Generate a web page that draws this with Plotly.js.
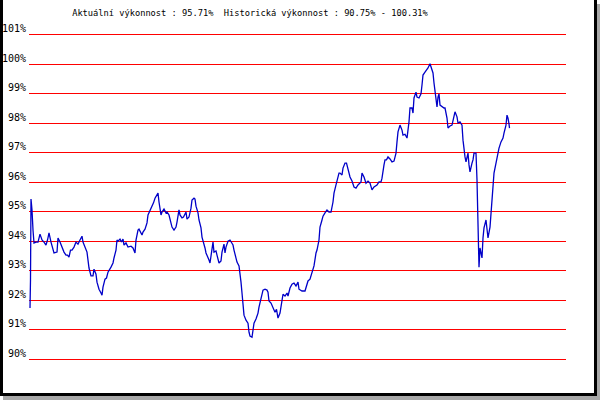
<!DOCTYPE html>
<html>
<head>
<meta charset="utf-8">
<script src="https://cdn.plot.ly/plotly-3.0.1.min.js"></script>
<style>
  html, body { margin: 0; padding: 0; background: #ffffff; }
  #wrap { position: relative; width: 600px; height: 400px; overflow: hidden; background: #ffffff; }
  #frame { position: absolute; left: 0; top: 0; width: 591px; height: 393px;
           border-left: 3px solid #000; border-right: 3px solid #000; border-bottom: 3px solid #000;
           box-shadow: 3px 4px 0 #a8a8a8; }
  #chart { position: absolute; left: 0; top: 0; width: 600px; height: 400px; }
</style>
</head>
<body>
<div id="wrap">
  <div id="frame"></div>
  <div id="chart"></div>
</div>
<script>
// sample position (time step) and performance value in %
const t = [30,30.5,31,32,33,34,36,38,40,42,44,46,47.5,49,51,53,54,57,58,60,62,64,66,67.5,69,70.5,72,74,76,78,80,82,83,85,87,88,89,91,93,94,96,97,99,101,102,103,105,106.5,108,111,113,114,116,117,118,120,121.5,123,124,126,128,131,133,135,136,138,139,142,143,145,147,148,150,152,153.5,155,157,158,159,160,161,162,164,166,167,169,171,172,174,176,177,179,180,182,183.5,185,186,187,189,191,192,194,195,196,198,199,201,202,204,205,206,208,209,210,212,213,214,216,217,219,221,222,224,225,226,228,230,231,233,234,236,237,239,240,241,242,243,244,246,248,249,250,252,253,254,256,258,259,261,262,263,265,267,268,269,271,273,275,276.5,278,280,282,283,285,287,288,290,292,294,296,298,299,302,305,307,308,310,312,314,316,317,319,320,322,323,325,327,329,331,333,334,336,337,339,340,342,343,345,346.5,348,350,352,354,356,358,361,362,364,366,368,370,372,374,377,379,381,382,384,385,386.5,388,390,392,394,396,397,398,400,402,403,405,407,408,409,410,412,413,414,416,417,419,421,422,423,425,427,428,430,431,433,434,436,437,438,439,440,442,444,445,447,448,450,452,453,455,457,458,460,462,463,464,465,466,468,469,470,472,473,474,476,477,478,478.5,479,480,482,483,484,486,487,488,490,491,492,494,496,497,499,501,503,504,506,507,508,509,509.5];
const vykonnost = [91.73,92.68,95.43,95.06,94.38,93.94,93.97,93.97,94.24,94.04,93.97,93.87,94.04,94.28,93.97,93.77,93.60,93.63,94.11,93.97,93.80,93.63,93.53,93.53,93.46,93.70,93.70,93.80,93.97,93.90,94.04,94.17,93.97,93.80,93.63,93.36,93.09,92.82,92.82,93.05,92.88,92.61,92.37,92.24,92.17,92.44,92.71,92.75,92.95,93.12,93.26,93.43,93.70,94.04,94.00,94.07,93.97,94.07,93.87,93.94,93.80,93.83,93.77,93.60,94.04,94.38,94.41,94.21,94.31,94.41,94.62,94.89,95.02,95.19,95.30,95.46,95.57,95.63,95.33,95.12,94.89,94.99,95.09,94.96,94.99,94.89,94.62,94.48,94.38,94.48,94.65,95.06,94.89,94.79,94.82,94.92,94.99,94.75,94.82,95.12,95.40,95.46,95.43,95.19,94.96,94.72,94.45,94.14,93.94,93.77,93.60,93.46,93.36,93.26,93.77,93.97,93.63,93.67,93.53,93.26,93.33,93.63,93.90,93.60,93.80,94.00,94.04,93.97,93.87,93.70,93.46,93.29,93.16,92.95,92.61,92.24,91.83,91.49,91.32,91.22,90.91,90.78,90.74,90.98,91.22,91.36,91.56,91.76,92.03,92.24,92.34,92.37,92.34,92.27,91.97,91.90,91.76,91.59,91.69,91.39,91.56,91.90,92.20,92.14,92.24,92.14,92.41,92.54,92.58,92.48,92.61,92.37,92.31,92.31,92.61,92.65,92.71,92.92,93.16,93.60,93.70,94.04,94.48,94.72,94.85,94.96,95.06,94.99,94.99,95.33,95.63,95.91,96.08,96.31,96.31,96.25,96.48,96.65,96.65,96.42,96.18,96.04,95.84,95.80,95.91,96.01,96.31,96.18,95.97,96.04,95.97,95.74,95.84,95.91,96.01,96.01,96.14,96.59,96.76,96.76,96.86,96.79,96.69,96.72,96.99,97.37,97.71,97.94,97.77,97.60,97.63,97.50,97.77,98.05,98.52,98.52,98.35,98.86,99.06,98.89,98.86,99.00,99.30,99.64,99.74,99.81,99.88,100.02,99.91,99.71,99.37,98.89,98.56,98.89,99.00,98.62,98.56,98.52,98.52,98.18,97.84,97.91,97.94,98.11,98.39,98.22,98.01,98.05,97.94,97.43,97.03,96.86,96.69,96.99,96.59,96.35,96.65,96.76,96.99,96.99,96.08,94.99,93.97,93.12,93.77,93.43,94.11,94.45,94.72,94.45,94.11,94.48,94.99,95.67,96.31,96.65,96.86,97.16,97.37,97.50,97.67,97.94,98.28,98.18,97.98,97.84];
const tickValues = [90,91,92,93,94,95,96,97,98,99,100,101];
const tickLabels = ["90%","91%","92%","93%","94%","95%","96%","97%","98%","99%","100%","101%"];
const titleText = "Aktuální výkonnost : 95.71%  Historická výkonnost : 90.75% - 100.31%";

const trace = {
  x: t, y: vykonnost, type: 'scatter', mode: 'lines',
  line: { color: '#0000c8', width: 1.3, shape: 'linear' },
  hoverinfo: 'skip', showlegend: false
};

const layout = {
  width: 600, height: 400,
  margin: { l: 29, r: 34, t: 32, b: 38, pad: 0 },
  paper_bgcolor: 'rgba(0,0,0,0)', plot_bgcolor: 'rgba(0,0,0,0)',
  showlegend: false,
  title: { text: titleText, x: 250/600, xanchor: 'center', xref: 'container',
           y: 1 - 13/400, yanchor: 'middle', yref: 'container',
           font: { family: 'DejaVu Sans Mono, monospace', size: 8.7, color: '#000' } },
  xaxis: { range: [29, 566], showgrid: false, zeroline: false, showticklabels: false,
           ticks: '', showline: false, fixedrange: true },
  yaxis: { range: [89.9, 101.1], tickmode: 'array', tickvals: tickValues, ticktext: tickLabels,
           showgrid: true, gridcolor: '#ff0000', gridwidth: 1, zeroline: false,
           showline: false, ticks: '', ticklabelshift: -6, ticklabelstandoff: 2,
           tickfont: { family: 'DejaVu Sans Mono, monospace', size: 10, color: '#000' },
           fixedrange: true }
};

Plotly.newPlot('chart', [trace], layout, { staticPlot: true, displayModeBar: false });
</script>
</body>
</html>
